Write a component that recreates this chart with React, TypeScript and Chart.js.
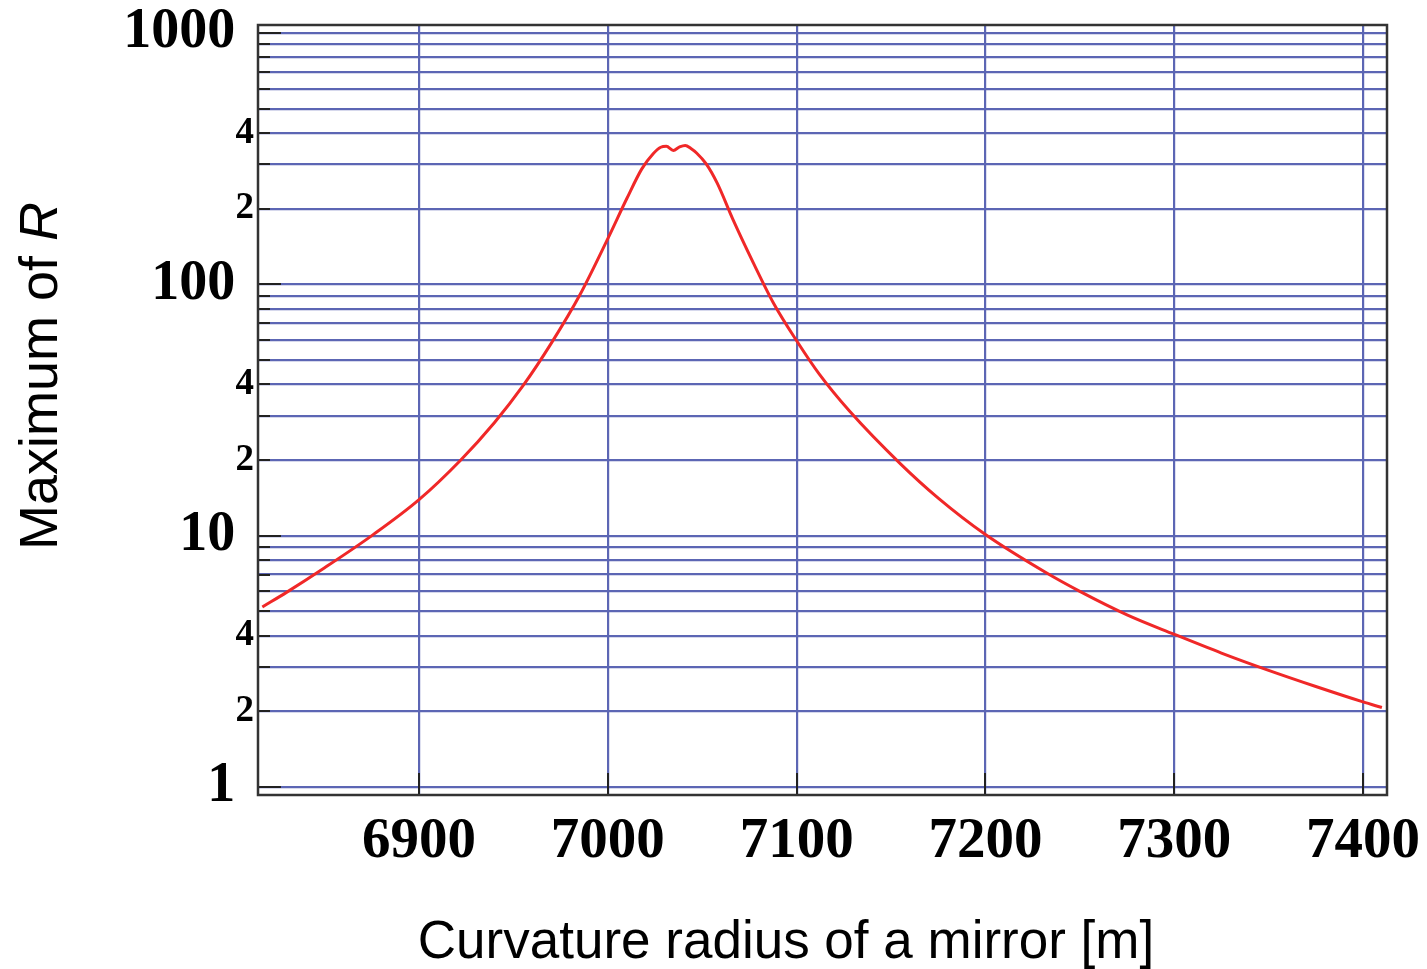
import React, { useEffect, useRef } from 'react';
import { Chart, registerables } from 'chart.js';

Chart.register(...registerables);

// Data
const radius = [6817, 6830, 6850, 6875, 6900, 6922, 6940, 6955, 6970, 6985, 7000, 7010, 7018, 7024, 7028, 7031, 7034.7, 7038, 7041, 7044, 7047, 7052, 7058, 7066, 7077, 7088, 7100, 7112, 7128, 7155, 7175, 7200, 7232, 7250, 7275, 7300, 7325, 7350, 7375, 7400, 7410];
const maxR = [5.2, 5.96, 7.45, 10.0, 13.9, 19.95, 28.2, 39.4, 58.2, 90.2, 152, 219, 288, 331, 351, 354, 341, 352, 357, 347, 333, 302, 252, 183, 122, 83.5, 59.6, 43.9, 31.3, 19.3, 14.1, 10.1, 7.13, 6.0, 4.84, 4.05, 3.41, 2.91, 2.51, 2.18, 2.07];

const xTicks = [6900, 7000, 7100, 7200, 7300, 7400];
const yTicks = [1, 2, 3, 4, 5, 6, 7, 8, 9, 10, 20, 30, 40, 50, 60, 70, 80, 90, 100, 200, 300, 400, 500, 600, 700, 800, 900, 1000];
const yMajor = [1, 10, 100, 1000];
const yMinorLabelled = [2, 4, 20, 40, 200, 400];
const xMin = 6814.7;
const xMax = 7412.7;
const yMin = 0.929;
const yMax = 1076;

const xTitle = 'Curvature radius of a mirror [m]';
const yTitleMain = 'Maximum of ';
const yTitleItalic = 'R';

const GRID = 'rgb(92,102,180)';

const framePlugin = {
  id: 'framePlugin',
  afterDraw(chart: any) {
    const { ctx, chartArea } = chart;
    const xs = chart.scales.x;
    const ys = chart.scales.y;
    ctx.save();
    ctx.strokeStyle = '#222';
    ctx.lineWidth = 2;
    yTicks.forEach((v) => {
      const py = Math.round(ys.getPixelForValue(v));
      const len = yMajor.includes(v) ? 23 : 12;
      ctx.beginPath();
      ctx.moveTo(chartArea.left, py);
      ctx.lineTo(chartArea.left + len, py);
      ctx.stroke();
    });
    xTicks.forEach((v) => {
      const px = Math.round(xs.getPixelForValue(v));
      ctx.beginPath();
      ctx.moveTo(px, chartArea.bottom);
      ctx.lineTo(px, chartArea.bottom - 22);
      ctx.stroke();
    });
    ctx.lineWidth = 2.5;
    ctx.strokeStyle = '#333';
    ctx.strokeRect(chartArea.left, chartArea.top, chartArea.right - chartArea.left, chartArea.bottom - chartArea.top);

    ctx.fillStyle = '#000';
    ctx.font = '53px "Liberation Sans", Arial, sans-serif';
    ctx.textAlign = 'center';
    ctx.textBaseline = 'alphabetic';
    ctx.fillText(xTitle, 786, 958);

    ctx.translate(57, 376);
    ctx.rotate(-Math.PI / 2);
    const fMain = '54px "Liberation Sans", Arial, sans-serif';
    const fItal = 'italic 54px "Liberation Sans", Arial, sans-serif';
    ctx.font = fMain;
    const w1 = ctx.measureText(yTitleMain).width;
    ctx.font = fItal;
    const w2 = ctx.measureText(yTitleItalic).width;
    const start = -(w1 + w2) / 2;
    ctx.textAlign = 'left';
    ctx.font = fMain;
    ctx.fillText(yTitleMain, start, 0);
    ctx.font = fItal;
    ctx.fillText(yTitleItalic, start + w1, 0);
    ctx.restore();
  },
};

export default function App() {
  const ref = useRef<HTMLCanvasElement | null>(null);

  useEffect(() => {
    if (!ref.current) return;
    const chart = new Chart(ref.current, {
      type: 'line',
      data: {
        datasets: [
          {
            data: radius.map((x, i) => ({ x, y: maxR[i] })),
            borderColor: 'rgb(240,40,40)',
            borderWidth: 3,
            pointRadius: 0,
            cubicInterpolationMode: 'monotone',
            fill: false,
          },
        ],
      },
      options: {
        animation: false,
        responsive: true,
        maintainAspectRatio: false,
        layout: { padding: { top: 25, right: 40, left: 0, bottom: 0 } },
        plugins: { legend: { display: false }, tooltip: { enabled: false } },
        scales: {
          x: {
            type: 'linear',
            min: xMin,
            max: xMax,
            afterBuildTicks: (s: any) => {
              s.ticks = xTicks.map((v) => ({ value: v }));
            },
            afterFit: (s: any) => {
              s.height = 174;
              s.paddingLeft = 0;
              s.paddingRight = 0;
            },
            grid: { color: GRID, lineWidth: 2.2, drawTicks: false },
            border: { display: false },
            ticks: {
              autoSkip: false,
              maxRotation: 0,
              padding: 19,
              color: '#000',
              font: { family: '"Liberation Serif", "Times New Roman", serif', size: 57, weight: 'bold', lineHeight: 1 },
              callback: (v: any) => String(v),
            },
          },
          y: {
            type: 'logarithmic',
            min: yMin,
            max: yMax,
            afterBuildTicks: (s: any) => {
              s.ticks = yTicks.map((v) => ({ value: v, major: yMajor.includes(v) }));
            },
            afterFit: (s: any) => {
              s.width = 258;
              s.paddingTop = 0;
              s.paddingBottom = 0;
            },
            grid: { color: GRID, lineWidth: 2.2, drawTicks: false },
            border: { display: false },
            ticks: {
              autoSkip: false,
              padding: 4,
              color: '#000',
              font: (c: any) => {
                const v = c.tick ? c.tick.value : 1;
                return yMajor.includes(v)
                  ? { family: '"Liberation Serif", "Times New Roman", serif', size: 56, weight: 'bold', lineHeight: 0.7 }
                  : { family: '"Liberation Serif", "Times New Roman", serif', size: 37, weight: 'bold', lineHeight: 0.7 };
              },
              callback: (v: any) => {
                const n = Number(v);
                if (yMajor.includes(n)) return String(n) + ' \u200A';
                if (yMinorLabelled.includes(n)) {
                  const e = Math.pow(10, Math.floor(Math.log10(n) + 1e-9));
                  return String(Math.round(n / e));
                }
                return '';
              },
            },
          },
        },
      } as any,
      plugins: [framePlugin],
    });
    return () => chart.destroy();
  }, []);

  return (
    <div style={{ position: 'fixed', left: 0, top: 0, width: 1427, height: 969, background: '#fff' }}>
      <canvas ref={ref} />
    </div>
  );
}
